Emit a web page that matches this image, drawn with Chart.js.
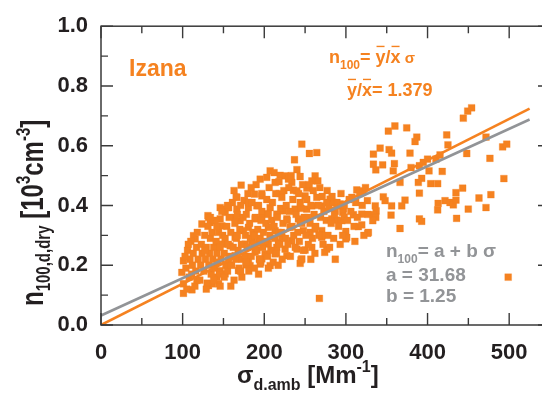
<!DOCTYPE html>
<html lang="en">
<head>
  <meta charset="UTF-8">
  <title>Izana n100 vs sigma</title>
  <script src="https://cdn.jsdelivr.net/npm/chart.js"></script>
  <style>
    html, body {
      margin: 0;
      padding: 0;
      background: #ffffff;
      overflow: hidden;
    }
    #scatterChart {
      display: block;
    }
  </style>
</head>
<body>
  <canvas id="scatterChart" width="560" height="395"></canvas>

  <script>
    // sigma_d.amb [Mm-1] and n100,d,dry [10^3 cm-3]
    const obs = [
      [246,0.605],[352,0.649],[360,0.666],[374.5,0.660],[386.8,0.629],[384.7,0.614],[423.5,0.636],[425,0.603],
      [443.8,0.692],[449.2,0.716],[454,0.727],[471.6,0.629],[492,0.596],[497,0.605],[341.9,0.592],[352.9,0.587],
      [356,0.575],[333.7,0.572],[378.5,0.575],[448,0.574],[476.4,0.558],[333.7,0.538],[336.6,0.519],[345,0.536],
      [359.4,0.540],[358,0.516],[379.8,0.527],[390,0.533],[394.8,0.544],[400,0.555],[410.3,0.555],[415.3,0.569],
      [401.8,0.516],[418,0.514],[392.8,0.491],[388.7,0.477],[366.3,0.477],[403.9,0.473],[412.4,0.473],[443,0.458],
      [434.8,0.443],[493.5,0.490],[313.3,0.452],[321.3,0.449],[307.2,0.427],[326.3,0.416],[345.8,0.429],[348,0.416],
      [372.4,0.418],[368.4,0.399],[390,0.441],[356,0.399],[336,0.399],[337,0.382],[333.7,0.369],[336.6,0.360],
      [332.9,0.349],[355.3,0.368],[413,0.407],[421.4,0.416],[427.5,0.410],[431.6,0.402],[434.8,0.418],[412.4,0.385],
      [449.9,0.388],[463,0.425],[477.6,0.436],[471.6,0.393],[435.6,0.357],[390,0.355],[392.8,0.347],[366.3,0.323],
      [319.4,0.371],[309.2,0.369],[315.3,0.329],[319.4,0.335],[326.7,0.307],[299.8,0.313],[299.8,0.288],[498.8,0.160],
      [293,0.405],[297,0.388],[296,0.377],[287,0.380],[282.7,0.355],[289,0.351],[295,0.349],[327.5,0.310],
      [255.3,0.574],[264.3,0.577],[237,0.553],[171.7,0.468],[207.2,0.516],[195,0.488],[203,0.494],[219.4,0.501],
      [225.5,0.499],[243.9,0.497],[262.3,0.499],[265.6,0.482],[258.3,0.482],[233.7,0.477],[229.6,0.488],[213.3,0.477],
      [235.7,0.451],[239.9,0.449],[252.1,0.458],[250,0.432],[264.3,0.427],[280.6,0.421],[284.7,0.410],[218.2,0.440],
      [221.5,0.427],[188,0.438],[197,0.432],[166.4,0.427],[175.7,0.416],[156.2,0.393],[152.1,0.377],[180.6,0.393],
      [190.9,0.399],[207.2,0.393],[201,0.373],[223.4,0.382],[215.3,0.371],[237.8,0.388],[252,0.388],[258.2,0.399],
      [270.4,0.399],[276.5,0.410],[290.8,0.399],[298,0.362],[241.8,0.355],[243.9,0.343],[227.6,0.355],[188.8,0.355],
      [197,0.360],[170.5,0.349],[164.3,0.360],[146,0.355],[148,0.332],[180.6,0.327],[174.5,0.316],[205,0.327],
      [213.3,0.316],[231.6,0.327],[247.9,0.316],[256.1,0.310],[262.3,0.321],[270.4,0.316],[270.4,0.293],[301,0.293],
      [276.5,0.254],[274,0.243],[239.9,0.254],[250,0.251],[258.2,0.260],[246,0.221],[244,0.206],[227.6,0.232],
      [225.5,0.254],[207.2,0.199],[195,0.204],[197,0.221],[213.3,0.238],[215.3,0.260],[180.6,0.210],[182.6,0.199],
      [172.5,0.160],[168.4,0.182],[146,0.182],[141.9,0.160],[144,0.138],[152.1,0.171],[267.5,0.089],[184.8,0.282],
      [192.9,0.282],[164.3,0.293],[176.6,0.271],[158.2,0.265],[148,0.271],[205,0.271],[217.3,0.276],[221.5,0.293],
      [233.7,0.282],[201,0.238],[188.8,0.243],[164.3,0.232],[156.2,0.215],[245,0.218],[195.8,0.210],[177.5,0.201],
      [270.4,0.299],[101,0.106],[111.4,0.118],[101,0.138],[99,0.176],[101,0.215],[117.5,0.149],[131.7,0.132],
      [135.8,0.138],[115.4,0.288],[113.3,0.299],[123.6,0.338],[131.7,0.360],[133.8,0.343],[146,0.393],[150,0.388],
      [165.6,0.429],[175.4,0.416],[180.6,0.410],[166.4,0.388],[156,0.393],[131,0.366],[137.8,0.349],
      // dense core
      [104,0.19],[106,0.25],[108,0.16],[109,0.22],[110,0.28],[112,0.20],[113,0.24],[115,0.13],[116,0.18],[117,0.26],
      [118,0.31],[119,0.22],[121,0.15],[122,0.20],[123,0.27],[124,0.24],[105,0.12],[103,0.23],[107,0.27],[111,0.17],
      [126,0.18],[127,0.30],[128,0.22],[129,0.26],[130,0.14],[131,0.33],[132,0.20],[133,0.24],[134,0.29],[135,0.17],
      [136,0.31],[137,0.22],[138,0.26],[139,0.19],[140,0.35],[141,0.28],[142,0.24],[143,0.21],[144,0.31],[145,0.17],
      [146,0.26],[147,0.22],[148,0.38],[149,0.30],[127,0.25],[129,0.12],[134,0.36],[138,0.15],[142,0.33],[146,0.13],
      [151,0.24],[152,0.29],[153,0.20],[154,0.33],[155,0.18],[156,0.27],[157,0.36],[158,0.23],[159,0.31],[160,0.20],
      [161,0.41],[162,0.26],[163,0.15],[164,0.34],[165,0.22],[166,0.29],[167,0.37],[168,0.25],[169,0.19],[170,0.32],
      [171,0.40],[172,0.27],[173,0.22],[174,0.36],[151,0.16],[155,0.40],[159,0.13],[163,0.45],[167,0.30],[171,0.18],
      [176,0.23],[177,0.30],[178,0.37],[179,0.26],[180,0.44],[181,0.18],[182,0.34],[183,0.29],[184,0.23],[185,0.41],
      [186,0.31],[187,0.27],[188,0.19],[189,0.36],[190,0.47],[191,0.25],[192,0.32],[193,0.40],[194,0.22],[195,0.29],
      [196,0.35],[197,0.44],[198,0.26],[199,0.31],[178,0.21],[184,0.46],[188,0.30],[193,0.17],[197,0.38],
      [201,0.28],[202,0.34],[203,0.42],[204,0.23],[205,0.37],[206,0.46],[207,0.30],[208,0.25],[209,0.35],[210,0.41],
      [211,0.21],[212,0.33],[213,0.29],[214,0.44],[215,0.24],[216,0.36],[217,0.31],[218,0.48],[219,0.27],[220,0.39],
      [222,0.22],[223,0.34],[224,0.45],[205,0.19],[212,0.51],[217,0.20],[221,0.31],
      [226,0.29],[227,0.40],[228,0.35],[229,0.27],[230,0.46],[231,0.38],[232,0.23],[234,0.33],[235,0.42],[236,0.30],
      [238,0.26],[239,0.37],[240,0.52],[241,0.31],[242,0.44],[243,0.28],[245,0.39],[246,0.34],[247,0.47],[248,0.25],
      [249,0.36],[233,0.50],[244,0.41],
      [251,0.30],[252,0.42],[253,0.36],[254,0.27],[255,0.47],[256,0.34],[257,0.40],[259,0.29],[260,0.45],[261,0.37],
      [263,0.33],[266,0.40],[267,0.30],[268,0.46],[269,0.36],[271,0.43],[272,0.27],[273,0.38],[262,0.24],[257,0.22],
      [276,0.35],[277,0.45],[278,0.30],[279,0.39],[282,0.34],[283,0.43],[285,0.29],[286,0.37],[289,0.41],[291,0.33],
      [294,0.44],[296,0.30],[298,0.40],[280,0.26],[287,0.22],[293,0.27],
      [302,0.35],[304,0.42],[306,0.38],[310,0.33],[312,0.41],[314,0.36],[317,0.44],[320,0.40],[322,0.30],[324,0.46],
      [327,0.37],[311,0.28]
    ];

    // fit results printed on the figure
    const fitRange = [0, 525];
    const ratioYX = 1.379;          // n100 = (y/x) * sigma
    const fitA = 31.68, fitB = 1.25; // n100 = a + b * sigma   (cm-3)

    const xTicks = [0, 100, 200, 300, 400, 500];
    const yTicks = [0.0, 0.2, 0.4, 0.6, 0.8, 1.0];

    const ORANGE = '#f58220';
    const GRAY = '#929497';
    const INK = '#231f20';
    const FONT = '"Liberation Sans", Arial, Helvetica, sans-serif';

    const ratioLine = fitRange.map(x => ({ x: x, y: ratioYX * x / 1000 }));
    const linLine = fitRange.map(x => ({ x: x, y: (fitA + fitB * x) / 1000 }));

    function drawRich(ctx, parts, x, y, color) {
      ctx.fillStyle = color;
      ctx.strokeStyle = color;
      ctx.textBaseline = 'alphabetic';
      ctx.textAlign = 'left';
      let cx = x;
      parts.forEach(p => {
        ctx.font = 'bold ' + p.size + 'px ' + FONT;
        const w = ctx.measureText(p.t).width;
        ctx.fillText(p.t, cx, y + (p.dy || 0));
        if (p.bar) {
          ctx.lineWidth = 1.4;
          ctx.beginPath();
          ctx.moveTo(cx + 1, y - p.size * 0.92);
          ctx.lineTo(cx + w - 1, y - p.size * 0.92);
          ctx.stroke();
        }
        cx += w;
      });
      return cx - x;
    }

    const framePlugin = {
      id: 'frame',
      afterDraw(chart) {
        const { ctx, chartArea: a, scales } = chart;
        ctx.save();
        ctx.strokeStyle = '#3a3a3a';
        ctx.lineWidth = 1.5;
        ctx.strokeRect(a.left, a.top, a.right - a.left, a.bottom - a.top);

        ctx.lineWidth = 1.4;
        ctx.beginPath();
        for (let v = 0; v <= 550; v += 50) {
          const px = scales.x.getPixelForValue(v);
          const len = v % 100 === 0 ? 12 : 7;
          ctx.moveTo(px, a.bottom); ctx.lineTo(px, a.bottom - len);
          ctx.moveTo(px, a.top); ctx.lineTo(px, a.top + len);
        }
        for (let i = 0; i <= 10; i++) {
          const py = scales.y.getPixelForValue(i / 10);
          const len = i % 2 === 0 ? 12 : 7;
          ctx.moveTo(a.left, py); ctx.lineTo(a.left + len, py);
          ctx.moveTo(a.right, py); ctx.lineTo(a.right - len, py);
        }
        ctx.stroke();

        // axis titles
        ctx.save();
        ctx.translate(43, 306);
        ctx.rotate(-Math.PI / 2);
        ctx.scale(1, 1.3);
        drawRich(ctx, [
          { t: 'n', size: 24 },
          { t: '100,d,dry', size: 15, dy: 5 },
          { t: ' [10', size: 24 },
          { t: '3', size: 15, dy: -10 },
          { t: 'cm', size: 24 },
          { t: '-3', size: 15, dy: -10 },
          { t: ']', size: 24 }
        ], 0, 0, INK);
        ctx.restore();

        drawRich(ctx, [
          { t: '\u03c3', size: 24 },
          { t: 'd.amb', size: 16, dy: 7 },
          { t: ' [Mm', size: 24 },
          { t: '-1', size: 16, dy: -11 },
          { t: ']', size: 24 }
        ], 237, 383, INK);

        // annotations
        drawRich(ctx, [{ t: 'Izana', size: 23 }], 129, 76, ORANGE);
        drawRich(ctx, [
          { t: 'n', size: 18 },
          { t: '100', size: 12, dy: 6 },
          { t: '= ', size: 18 },
          { t: 'y', size: 18, bar: true },
          { t: '/', size: 18 },
          { t: 'x', size: 18, bar: true },
          { t: ' \u03c3', size: 15 }
        ], 329, 63, ORANGE);
        drawRich(ctx, [
          { t: 'y', size: 18, bar: true },
          { t: '/', size: 18 },
          { t: 'x', size: 18, bar: true },
          { t: '= ' + ratioYX.toFixed(3), size: 18 }
        ], 347, 96, ORANGE);

        drawRich(ctx, [
          { t: 'n', size: 19 },
          { t: '100', size: 12, dy: 6 },
          { t: '= a + b \u03c3', size: 19 }
        ], 386, 257, GRAY);
        drawRich(ctx, [{ t: 'a = ' + fitA.toFixed(2), size: 19 }], 386, 281, GRAY);
        drawRich(ctx, [{ t: 'b = ' + fitB.toFixed(2), size: 19 }], 386, 302, GRAY);
        ctx.restore();
      }
    };

    const ctx = document.getElementById('scatterChart').getContext('2d');
    new Chart(ctx, {
      type: 'scatter',
      data: {
        datasets: [
          {
            label: 'n100 = a + b sigma',
            data: linLine,
            showLine: true,
            borderColor: GRAY,
            borderWidth: 2.6,
            pointRadius: 0
          },
          {
            label: 'n100 = y/x sigma',
            data: ratioLine,
            showLine: true,
            borderColor: ORANGE,
            borderWidth: 2.6,
            pointRadius: 0
          },
          {
            label: 'Izana',
            data: obs.map(p => ({ x: p[0], y: p[1] })),
            pointStyle: 'rect',
            pointRadius: 4.8,
            backgroundColor: ORANGE,
            borderColor: 'rgba(245,130,32,0.3)',
            borderWidth: 1
          }
        ]
      },
      options: {
        responsive: false,
        animation: false,
        layout: { padding: { left: 0, top: 25, right: 10, bottom: 0 } },
        plugins: {
          legend: { display: false },
          tooltip: { enabled: false }
        },
        scales: {
          x: {
            type: 'linear',
            min: 0,
            max: 550,
            afterFit: s => { s.height = 70; },
            grid: { display: false, drawTicks: false },
            border: { display: false },
            ticks: {
              stepSize: 100,
              includeBounds: false,
              padding: 15,
              color: INK,
              font: { family: FONT, size: 22, weight: 'bold' },
              callback: v => xTicks.includes(v) ? String(v) : ''
            }
          },
          y: {
            min: 0,
            max: 1,
            afterFit: s => { s.width = 101; },
            grid: { display: false, drawTicks: false },
            border: { display: false },
            ticks: {
              stepSize: 0.2,
              padding: 13,
              color: INK,
              font: { family: FONT, size: 22, weight: 'bold' },
              callback: v => yTicks.some(t => Math.abs(t - v) < 1e-6) ? v.toFixed(1) : ''
            }
          }
        }
      },
      plugins: [framePlugin]
    });
  </script>
</body>
</html>
